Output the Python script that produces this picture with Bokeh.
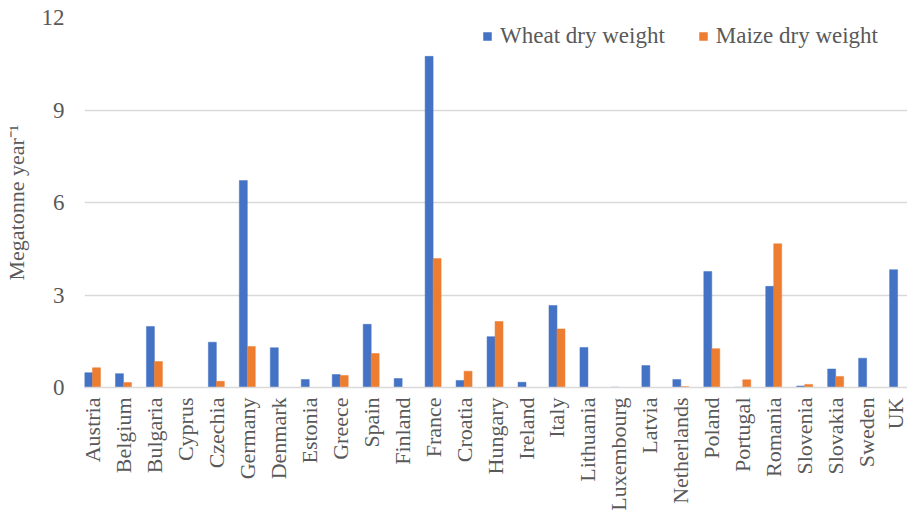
from bokeh.plotting import figure
from bokeh.models import ColumnDataSource, FixedTicker, Range1d, Legend
from bokeh.transform import dodge
from bokeh.embed import file_html
from bokeh.resources import INLINE
import math

countries = ["Austria", "Belgium", "Bulgaria", "Cyprus", "Czechia", "Germany", "Denmark",
             "Estonia", "Greece", "Spain", "Finland", "France", "Croatia", "Hungary",
             "Ireland", "Italy", "Lithuania", "Luxembourg", "Latvia", "Netherlands",
             "Poland", "Portugal", "Romania", "Slovenia", "Slovakia", "Sweden", "UK"]
wheat = [0.48, 0.45, 1.98, 0.0, 1.47, 6.71, 1.29, 0.26, 0.42, 2.05, 0.29, 10.74, 0.23, 1.65,
         0.17, 2.66, 1.30, 0.01, 0.71, 0.26, 3.76, 0.01, 3.28, 0.05, 0.60, 0.95, 3.82]
maize = [0.64, 0.16, 0.84, 0.0, 0.20, 1.33, 0.0, 0.0, 0.39, 1.10, 0.0, 4.18, 0.53, 2.14,
         0.0, 1.90, 0.0, 0.0, 0.0, 0.03, 1.26, 0.25, 4.66, 0.10, 0.36, 0.0, 0.0]
y_ticks = [0, 3, 6, 9, 12]

WHEAT_C = "#4472C4"
MAIZE_C = "#ED7D31"
TXT = "#595959"
FONT = "Liberation Serif"

idx = list(range(len(countries)))
src = ColumnDataSource(dict(x=idx, wheat=wheat, maize=maize))

p = figure(width=907, height=522, output_backend="svg", toolbar_location=None,
           x_range=Range1d(-0.258, 26.32), y_range=Range1d(0, 12),
           min_border_left=83, min_border_right=0, min_border_top=17, min_border_bottom=135)
p.outline_line_color = None

bw = 0.258
r1 = p.vbar(x=dodge("x", -bw / 2, range=p.x_range), top="wheat", width=bw, source=src,
            fill_color=WHEAT_C, line_color=WHEAT_C, line_width=0.5)
r2 = p.vbar(x=dodge("x", bw / 2, range=p.x_range), top="maize", width=bw, source=src,
            fill_color=MAIZE_C, line_color=MAIZE_C, line_width=0.5)

# x axis
p.xaxis.ticker = FixedTicker(ticks=idx)
p.xaxis.major_label_overrides = {i: c for i, c in zip(idx, countries)}
p.xaxis.major_label_orientation = math.pi / 2
p.xaxis.major_label_text_font = FONT
p.xaxis.major_label_text_font_size = "22px"
p.xaxis.major_label_text_color = TXT
p.xaxis.major_label_standoff = 10
p.xaxis.major_tick_out = 0
p.xaxis.major_tick_in = 0
p.xaxis.major_tick_line_color = None
p.xaxis.minor_tick_line_color = None
p.xaxis.axis_line_color = "#D9D9D9"
p.xaxis.axis_line_width = 1.5
p.xgrid.grid_line_color = None

# y axis
p.yaxis.ticker = FixedTicker(ticks=y_ticks)
p.yaxis.major_label_text_font = FONT
p.yaxis.major_label_text_font_size = "23px"
p.yaxis.major_label_text_color = TXT
p.yaxis.major_label_standoff = 20
p.yaxis.major_tick_out = 0
p.yaxis.major_tick_in = 0
p.yaxis.major_tick_line_color = None
p.yaxis.minor_tick_line_color = None
p.yaxis.axis_line_color = None
p.yaxis.axis_label = "Megatonne year\u207b\u00b9"
p.yaxis.axis_label_text_font = FONT
p.yaxis.axis_label_text_font_size = "22px"
p.yaxis.axis_label_text_font_style = "normal"
p.yaxis.axis_label_text_color = TXT
p.yaxis.axis_label_standoff = 10
p.ygrid.grid_line_color = "#D9D9D9"
p.ygrid.grid_line_width = 1.5

legend = Legend(items=[("Wheat dry weight", [r1]), ("Maize dry weight", [r2])],
                orientation="horizontal", location=(398, 338))
legend.label_text_font = FONT
legend.label_text_font_size = "23px"
legend.label_text_color = TXT
legend.glyph_width = 10
legend.glyph_height = 10
legend.label_standoff = 8
legend.spacing = 33
legend.border_line_color = None
legend.background_fill_alpha = 0
legend.margin = 0
legend.padding = 0
p.add_layout(legend)

open("out.html", "w").write(file_html(p, INLINE))
